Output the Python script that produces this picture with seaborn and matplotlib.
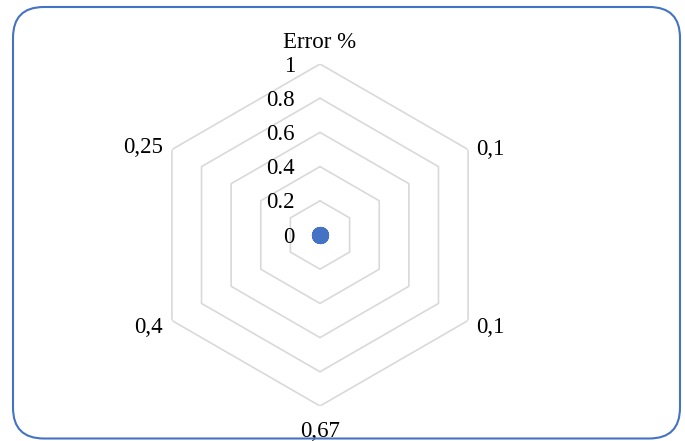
import numpy as np
import pandas as pd
import matplotlib.pyplot as plt
import seaborn as sns
from matplotlib.patches import FancyBboxPatch

# chart data
categories = ["Error %", "0,1", "0,1", "0,67", "0,4", "0,25"]
values = [0, 0, 0, 0, 0, 0]
ring_ticks = [0, 0.2, 0.4, 0.6, 0.8, 1]
ring_labels = ["0", "0.2", "0.4", "0.6", "0.8", "1"]

sns.set_style("white")
plt.rcParams['font.family'] = ['Liberation Serif', 'DejaVu Serif']

fig = plt.figure(figsize=(6.85, 4.41), dpi=100)

# rounded chart border (drawn over the text, like the original)
border = FancyBboxPatch((13 / 685, 2.5 / 441), 667 / 685, 431.5 / 441,
                        boxstyle="round,pad=0,rounding_size=0.045",
                        transform=fig.transFigure, fill=False, zorder=10,
                        edgecolor="#4472C4", linewidth=1.5, mutation_aspect=685 / 441)
fig.patches.append(border)

ax = fig.add_axes([149 / 685, 35 / 441, 342 / 685, 342 / 441], projection="polar")
ax.set_theta_zero_location("N")
ax.set_theta_direction(-1)
ax.set_ylim(0, 1)
ax.grid(False)
ax.spines["polar"].set_visible(False)
ax.set_xticks([])
ax.set_yticks([])
ax.patch.set_alpha(0)

n = len(categories)
angles = np.arange(n) * 2 * np.pi / n
closed = np.append(angles, angles[0])

# hexagonal grid rings
for r in ring_ticks[1:]:
    ax.plot(closed, [r] * (n + 1), color="#D9D9D9", linewidth=1.2, zorder=1)

fs = 16.5

# radial axis labels
for r, lab in zip(ring_ticks, ring_labels):
    ax.annotate(lab, xy=(0, r), xytext=(-25, -7.5), textcoords="offset pixels",
                ha="right", va="baseline", fontsize=fs, color="black")

# category labels (offset in pixels, baseline aligned)
offsets = [(0, 16, "center"), (8, -5.5, "left"), (8, -12.5, "left"),
           (0, -31, "center"), (-9, -12.5, "right"), (-9, -3.5, "right")]
for ang, lab, (dx, dy, ha) in zip(angles, categories, offsets):
    ax.annotate(lab, xy=(ang, 1), xytext=(dx, dy), textcoords="offset pixels",
                ha=ha, va="baseline", fontsize=fs, color="black",
                annotation_clip=False)

df = pd.DataFrame({"angle": angles, "value": values})
sns.scatterplot(data=df, x="angle", y="value", ax=ax, color="#4472C4",
                s=130, edgecolor="#4472C4", zorder=3, clip_on=False)
ax.set_xlabel("")
ax.set_ylabel("")

fig.savefig("out.png", dpi=100)
